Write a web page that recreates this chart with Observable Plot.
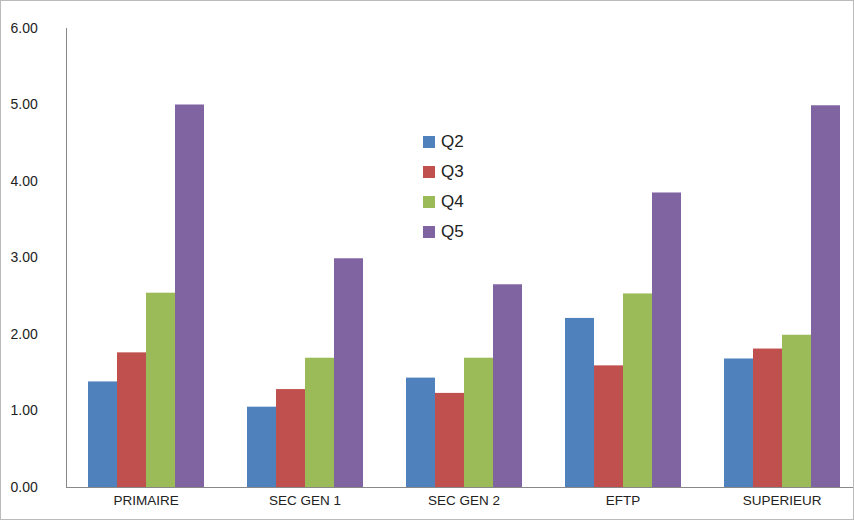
<!DOCTYPE html>
<html><head><meta charset="utf-8">
<script src="https://cdn.jsdelivr.net/npm/d3@7"></script>
<script src="https://cdn.jsdelivr.net/npm/@observablehq/plot@0.6"></script>
<style>
body{margin:0;background:#fff;font-family:"Liberation Sans",Arial,sans-serif;}
#wrap{position:relative;width:852px;height:518px;border:1px solid #bbb;overflow:hidden;}
#legend{position:absolute;left:422px;top:126px;font-size:17px;color:#222;}
#legend div{display:flex;align-items:center;height:30px;}
#legend span{display:inline-block;width:12px;height:12px;margin-right:6px;}
</style></head><body>
<div id="wrap"><div id="chart"></div><div id="legend"></div></div>
<script>
const categories=["PRIMAIRE","SEC GEN 1","SEC GEN 2","EFTP","SUPERIEUR"];
const series=["Q2","Q3","Q4","Q5"];
const colors=["#4F81BD","#C0504D","#9BBB59","#8064A2"];
const q2=[1.38,1.05,1.43,2.21,1.68];
const q3=[1.76,1.28,1.23,1.59,1.81];
const q4=[2.54,1.69,1.69,2.53,1.99];
const q5=[5.00,2.99,2.65,3.85,4.99];
const yTicks=[0,1,2,3,4,5,6];
const vals=[q2,q3,q4,q5];
const data=[];
categories.forEach((c,i)=>series.forEach((s,j)=>data.push({cat:c,s,v:vals[j][i]})));
const chart=Plot.plot({
  width:852,height:518,marginLeft:66,marginTop:27,marginBottom:32,marginRight:2,
  style:{fontFamily:"Liberation Sans, Arial, sans-serif",fontSize:"13px",color:"#222",overflow:"visible"},
  fx:{domain:categories,padding:0,range:[63,861],label:null},
  x:{domain:series,axis:null,paddingInner:0,paddingOuter:0.66},
  y:{domain:[0,6],ticks:yTicks,tickFormat:d3.format(".2f"),label:null},
  color:{domain:series,range:colors},
  marks:[
    Plot.barY(data,{fx:"cat",x:"s",y:"v",fill:"s"}),
    Plot.axisY({ticks:yTicks,tickFormat:d3.format(".2f"),tickSize:0,tickPadding:0,dx:-56,textAnchor:"start",fontSize:14}),
    Plot.axisFx({anchor:"bottom",tickSize:0,tickPadding:8,label:null,fontSize:13.5}),
    Plot.frame({anchor:"bottom",stroke:"#888",facet:"super"}),
    Plot.frame({anchor:"left",stroke:"#888",facet:"super"})
  ]
});
document.getElementById("chart").appendChild(chart);
const lg=document.getElementById("legend");
series.forEach((s,i)=>{lg.innerHTML+=`<div><span style="background:${colors[i]}"></span>${s}</div>`;});
</script></body></html>
